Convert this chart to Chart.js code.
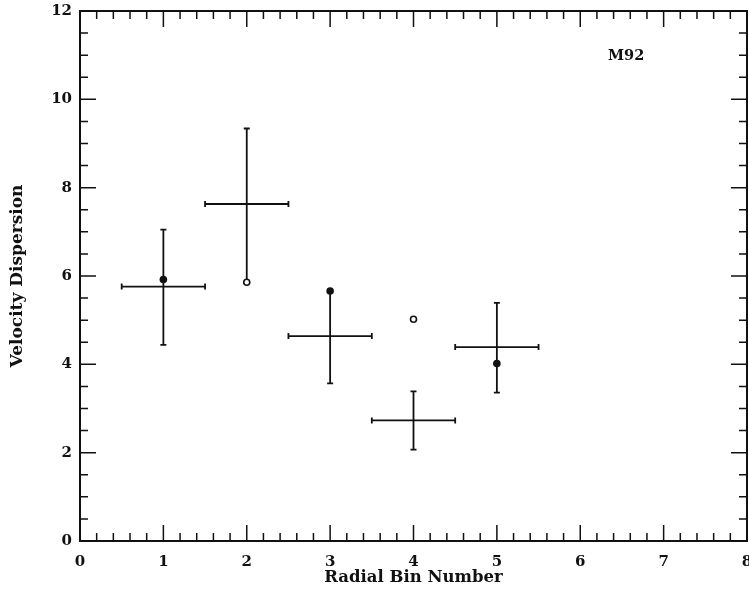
<!DOCTYPE html>
<html>
<head>
<meta charset="utf-8">
<script src="https://cdn.jsdelivr.net/npm/chart.js@4.4.1/dist/chart.umd.min.js"></script>
<style>
  html, body { margin: 0; padding: 0; background: #fff; }
  #wrap { width: 749px; height: 590px; }
</style>
</head>
<body>
<div id="wrap"><canvas id="chart"></canvas></div>
<script>
// M92 velocity dispersion per radial bin

const bins      = [1, 2, 3, 4, 5];
const binLow    = [0.5, 1.5, 2.5, 3.5, 4.5];
const binHigh   = [1.5, 2.5, 3.5, 4.5, 5.5];
const dispMean  = [5.76, 7.63, 4.64, 2.73, 4.39];
const dispLow   = [4.44, 5.87, 3.57, 2.07, 3.36];
const dispHigh  = [7.05, 9.34, 5.66, 3.39, 5.39];

const filledX = [1, 3, 5];
const filledY = [5.92, 5.66, 4.02];
const openX   = [2, 4];
const openY   = [5.86, 5.02];

const clusterName = 'M92';
const labelPos    = { x: 6.55, y: 10.98 };

const FONT = "'DejaVu Serif', serif";
const INK  = '#111';

const isWhole = v => Math.abs(v - Math.round(v)) < 1e-6;

// error crosses, drawn through the chart's own scales
const errorBars = {
  id: 'errorBars',
  beforeDatasetsDraw(chart) {
    const { ctx, scales: { x, y } } = chart;
    const cap = 3;
    ctx.save();
    ctx.strokeStyle = INK;
    ctx.lineWidth = 1.8;
    bins.forEach((b, i) => {
      const px  = x.getPixelForValue(b);
      const py  = y.getPixelForValue(dispMean[i]);
      const xl  = x.getPixelForValue(binLow[i]);
      const xr  = x.getPixelForValue(binHigh[i]);
      const yt  = y.getPixelForValue(dispHigh[i]);
      const yb  = y.getPixelForValue(dispLow[i]);
      ctx.beginPath();
      ctx.moveTo(xl, py); ctx.lineTo(xr, py);
      ctx.moveTo(xl, py - cap); ctx.lineTo(xl, py + cap);
      ctx.moveTo(xr, py - cap); ctx.lineTo(xr, py + cap);
      ctx.moveTo(px, yt); ctx.lineTo(px, yb);
      ctx.moveTo(px - cap, yt); ctx.lineTo(px + cap, yt);
      ctx.moveTo(px - cap, yb); ctx.lineTo(px + cap, yb);
      ctx.stroke();
    });
    ctx.restore();
  }
};

// boxed frame with inward ticks on all four sides, plus the cluster label
const frame = {
  id: 'frame',
  afterDatasetsDraw(chart) {
    const { ctx, chartArea: a, scales: { x, y } } = chart;
    ctx.save();
    ctx.strokeStyle = INK;
    ctx.lineWidth = 2;
    ctx.strokeRect(a.left, a.top, a.right - a.left, a.bottom - a.top);

    ctx.lineWidth = 1.5;
    ctx.beginPath();
    x.ticks.forEach(t => {
      const px = x.getPixelForValue(t.value);
      const len = isWhole(t.value) ? 16 : 8;
      ctx.moveTo(px, a.bottom); ctx.lineTo(px, a.bottom - len);
      ctx.moveTo(px, a.top);    ctx.lineTo(px, a.top + len);
    });
    y.ticks.forEach(t => {
      const py = y.getPixelForValue(t.value);
      const len = (isWhole(t.value) && Math.round(t.value) % 2 === 0) ? 16 : 8;
      ctx.moveTo(a.left, py);  ctx.lineTo(a.left + len, py);
      ctx.moveTo(a.right, py); ctx.lineTo(a.right - len, py);
    });
    ctx.stroke();

    ctx.fillStyle = INK;
    ctx.font = `bold 14.5px ${FONT}`;
    ctx.textAlign = 'center';
    ctx.textBaseline = 'middle';
    ctx.fillText(clusterName, x.getPixelForValue(labelPos.x), y.getPixelForValue(labelPos.y));
    ctx.restore();
  }
};

const zeroPad = s => { s.paddingLeft = s.paddingRight = s.paddingTop = s.paddingBottom = 0; };

new Chart(document.getElementById('chart'), {
  type: 'scatter',
  data: {
    datasets: [
      {
        label: 'filled',
        data: filledX.map((v, i) => ({ x: v, y: filledY[i] })),
        pointStyle: 'circle',
        pointRadius: 3.8,
        backgroundColor: INK,
        borderColor: INK,
        borderWidth: 0,
      },
      {
        label: 'open',
        data: openX.map((v, i) => ({ x: v, y: openY[i] })),
        pointStyle: 'circle',
        pointRadius: 3,
        backgroundColor: '#fff',
        borderColor: INK,
        borderWidth: 1.6,
      },
    ],
  },
  options: {
    responsive: true,
    maintainAspectRatio: false,
    animation: false,
    layout: { autoPadding: false, padding: { top: 11, right: 2, left: 0, bottom: 0 } },
    plugins: { legend: { display: false }, tooltip: { enabled: false } },
    scales: {
      x: {
        type: 'linear',
        min: 0, max: 8,
        border: { display: false },
        grid: { display: false, drawTicks: false },
        ticks: {
          stepSize: 0.2,
          autoSkip: false,
          maxRotation: 0,
          padding: 12,
          color: INK,
          font: { family: FONT, weight: 'bold', size: 15 },
          callback: v => isWhole(v) ? String(Math.round(v)) : '',
        },
        title: {
          display: true,
          text: 'Radial Bin Number',
          color: INK,
          font: { family: FONT, weight: 'bold', size: 16.5 },
          padding: { top: 0, bottom: 2 },
        },
        afterFit: s => { s.height = 49; zeroPad(s); },
      },
      y: {
        type: 'linear',
        min: 0, max: 12,
        border: { display: false },
        grid: { display: false, drawTicks: false },
        ticks: {
          stepSize: 0.5,
          autoSkip: false,
          padding: 8,
          color: INK,
          font: { family: FONT, weight: 'bold', size: 15 },
          callback: v => (isWhole(v) && Math.round(v) % 2 === 0) ? String(Math.round(v)) : '',
        },
        title: {
          display: true,
          text: 'Velocity Dispersion',
          color: INK,
          font: { family: FONT, weight: 'bold', size: 17 },
          padding: { top: 7, bottom: 0 },
        },
        afterFit: s => { s.width = 80; zeroPad(s); },
      },
    },
  },
  plugins: [errorBars, frame],
});
</script>
</body>
</html>
